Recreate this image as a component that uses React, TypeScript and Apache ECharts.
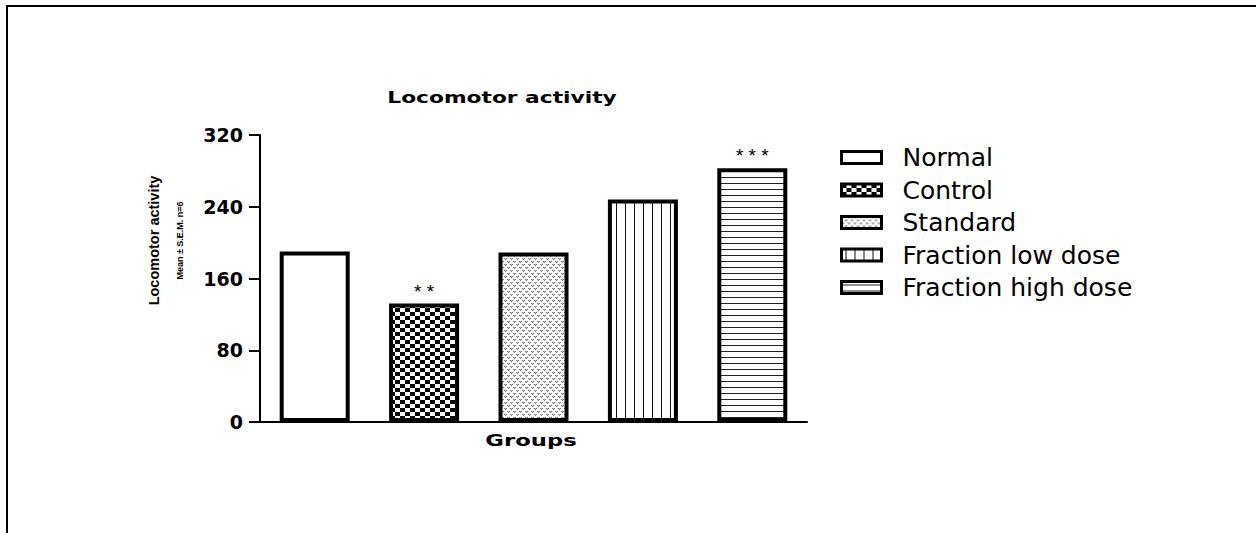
import React, { useEffect, useRef } from "react";
import * as echarts from "echarts";

const categories = ["Normal", "Control", "Standard", "Fraction low dose", "Fraction high dose"];
const values = [190, 132, 189, 248, 283];
const significance = ["", "* *", "", "", "* * *"];
const yMin = 0;
const yMax = 320;
const yStep = 80;
const titleText = "Locomotor activity";
const xAxisName = "Groups";
const yAxisName = "Locomotor activity";
const yAxisSubName = "Mean ± S.E.M. n=6";

function makeTile(w: number, h: number, draw: (ctx: CanvasRenderingContext2D) => void) {
  const c = document.createElement("canvas");
  c.width = w;
  c.height = h;
  const ctx = c.getContext("2d") as CanvasRenderingContext2D;
  ctx.fillStyle = "#fff";
  ctx.fillRect(0, 0, w, h);
  draw(ctx);
  return c;
}

function buildFills(): any[] {
  const checker = makeTile(10, 8, (ctx) => {
    ctx.fillStyle = "#000";
    ctx.fillRect(0, 0, 5, 4);
    ctx.fillRect(5, 4, 5, 4);
  });
  const dotted = makeTile(6, 6, (ctx) => {
    ctx.fillStyle = "#777";
    ctx.fillRect(0, 0, 1, 1);
    ctx.fillRect(2, 0, 1, 1);
    ctx.fillRect(1, 1, 1, 1);
    ctx.fillRect(3, 3, 1, 1);
    ctx.fillRect(5, 3, 1, 1);
    ctx.fillRect(4, 4, 1, 1);
    ctx.fillStyle = "#bbb";
    ctx.fillRect(1, 0, 1, 1);
    ctx.fillRect(4, 3, 1, 1);
  });
  const vertical = makeTile(9, 2, (ctx) => {
    ctx.fillStyle = "#111";
    ctx.fillRect(4, 0, 1, 2);
  });
  const horizontal = makeTile(2, 6, (ctx) => {
    ctx.fillStyle = "#222";
    ctx.fillRect(0, 3, 2, 1);
  });
  return [
    "#ffffff",
    { image: checker, repeat: "repeat" },
    { image: dotted, repeat: "repeat" },
    { image: vertical, repeat: "repeat" },
    { image: horizontal, repeat: "repeat" },
  ];
}

export default function App() {
  const ref = useRef<HTMLDivElement>(null);

  useEffect(() => {
    if (!ref.current) return;
    const chart = echarts.init(ref.current, null, { renderer: "svg" });
    const fills = buildFills();

    const series = categories.map((name, i) => ({
      name,
      type: "bar",
      data: categories.map((_, j) => (j === i ? values[i] : null)),
      barWidth: 70,
      barGap: "-100%",
      itemStyle: {
        color: fills[i],
        borderColor: "#000",
        borderWidth: 4,
      },
      label: {
        show: significance[i] !== "",
        position: "top",
        distance: 3,
        formatter: () => significance[i],
        color: "#000",
        fontSize: 19,
        fontFamily: "Liberation Sans",
      },
    }));

    chart.setOption({
      animation: false,
      backgroundColor: "#fff",
      grid: { left: 260, right: 449, top: 135, bottom: 111 },
      legend: {
        orient: "vertical",
        left: 840,
        top: 145,
        padding: 0,
        data: categories,
        icon: "rect",
        itemWidth: 40,
        itemHeight: 12,
        itemGap: 7.5,
        selectedMode: false,
        itemStyle: { borderColor: "#000", borderWidth: 3 },
        textStyle: {
          fontFamily: "DejaVu Sans",
          fontSize: 25,
          lineHeight: 25,
          color: "#000",
          padding: [0, 0, 0, 16],
        },
      },
      xAxis: {
        type: "category",
        data: categories,
        axisLine: { lineStyle: { color: "#000", width: 2 } },
        axisTick: { show: false },
        axisLabel: { show: false },
      },
      yAxis: {
        type: "value",
        min: yMin,
        max: yMax,
        interval: yStep,
        splitLine: { show: false },
        axisLine: { show: true, lineStyle: { color: "#000", width: 2 } },
        axisTick: { show: true, length: 11, lineStyle: { color: "#000", width: 2 } },
        axisLabel: {
          color: "#000",
          fontFamily: "DejaVu Sans",
          fontWeight: "bold",
          fontSize: 19,
          margin: 17,
        },
        name: "{a|" + yAxisName + "}\n{b|" + yAxisSubName + "}",
        nameLocation: "middle",
        nameRotate: 90,
        nameGap: 68,
        nameTextStyle: {
          color: "#000",
          padding: [0, 0, 0, 76],
          rich: {
            a: {
              fontFamily: "Liberation Sans",
              fontWeight: "bold",
              fontSize: 14.5,
              lineHeight: 28,
              color: "#000",
            },
            b: {
              fontFamily: "Liberation Sans",
              fontWeight: "bold",
              fontSize: 9,
              lineHeight: 24,
              color: "#000",
            },
          },
        },
      },
      graphic: [
        {
          type: "polyline",
          shape: { points: [[7, 533], [7, 6], [1256, 6]] },
          style: { stroke: "#000", lineWidth: 2, fill: "none" },
          silent: true,
        },
        {
          type: "text",
          x: 502,
          y: 98,
          scaleX: 1.36,
          style: {
            text: titleText,
            fontFamily: "DejaVu Sans",
            fontWeight: "bold",
            fontSize: 16,
            fill: "#000",
            align: "center",
            verticalAlign: "middle",
          },
        },
        {
          type: "text",
          x: 531,
          y: 441,
          scaleX: 1.42,
          style: {
            text: xAxisName,
            fontFamily: "DejaVu Sans",
            fontWeight: "bold",
            fontSize: 16,
            fill: "#000",
            align: "center",
            verticalAlign: "middle",
          },
        },
      ],
      series,
    });

    return () => chart.dispose();
  }, []);

  return (
    <div
      ref={ref}
      style={{ position: "fixed", left: 0, top: 0, width: 1256, height: 533 }}
    />
  );
}
